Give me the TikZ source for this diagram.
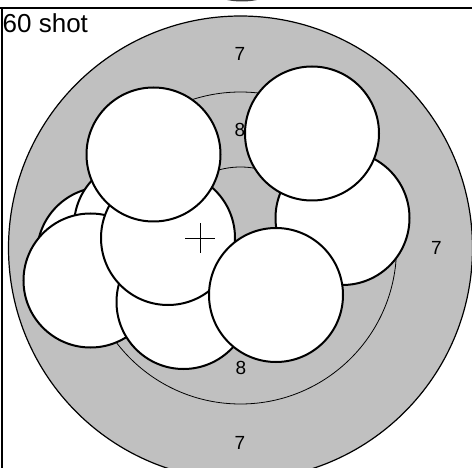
\documentclass[tikz,border=0pt]{standalone}
\usepackage{fontspec}
\setmainfont{Liberation Sans}
\definecolor{ringgray}{HTML}{C0C0C0}

\begin{document}
\begin{tikzpicture}[
    x=1pt, y=-1pt,
    shot/.style={draw, circle, fill=white, line width=2pt, minimum size=134pt, inner sep=0pt},
    ring/.style={draw, line width=0.8pt},
    score/.style={font=\fontsize{19}{22}\selectfont, inner sep=0pt}
]
\useasboundingbox (0,0) rectangle (472,468);
\clip (0,0) rectangle (472,468);

% frame
\fill[black!75] (242,-73.5) circle[radius=75pt];
\draw[line width=1.5pt] (0,8) -- (472,8);
\draw[line width=1.5pt] (2,8) -- (2,468);
\node[anchor=base west, inner sep=0pt, font=\fontsize{26}{30}\selectfont] (title) at (2.5,33) {60 shot};

% target face
\coordinate (centre) at (240.5,248);
\fill[ringgray, draw=black, line width=1.2pt] (centre) circle[radius=232pt];
\draw[ring] (centre) circle[radius=156pt];
\draw[ring] (centre) circle[radius=81pt];

\node[score] (s7top) at (240,54) {7};
\node[score] (s8top) at (240,129.5) {8};
\node[score] (s7right) at (436.5,248) {7};
\node[score] (s8bottom) at (241,367.5) {8};
\node[score] (s7bottom) at (240,443) {7};

% shots, in the order they were fired
\node[shot] (shot1) at (104,254) {};
\node[shot] (shot2) at (141,226) {};
\node[shot] (shot3) at (90.5,280.5) {};
\node[shot] (shot4) at (183.5,302) {};
\node[shot] (shot5) at (168,238) {};
\node[shot] (shot6) at (153.5,154.5) {};
\node[shot] (shot7) at (342.5,218) {};
\node[shot] (shot8) at (312,133.5) {};
\node[shot] (shot9) at (276,295) {};

% group centre
\coordinate (mean) at (200,238);
\draw[line width=0.9pt] ([xshift=-15pt]mean) -- ([xshift=15pt]mean);
\draw[line width=0.9pt] ([yshift=-15pt]mean) -- ([yshift=15pt]mean);

\end{tikzpicture}
\end{document}
